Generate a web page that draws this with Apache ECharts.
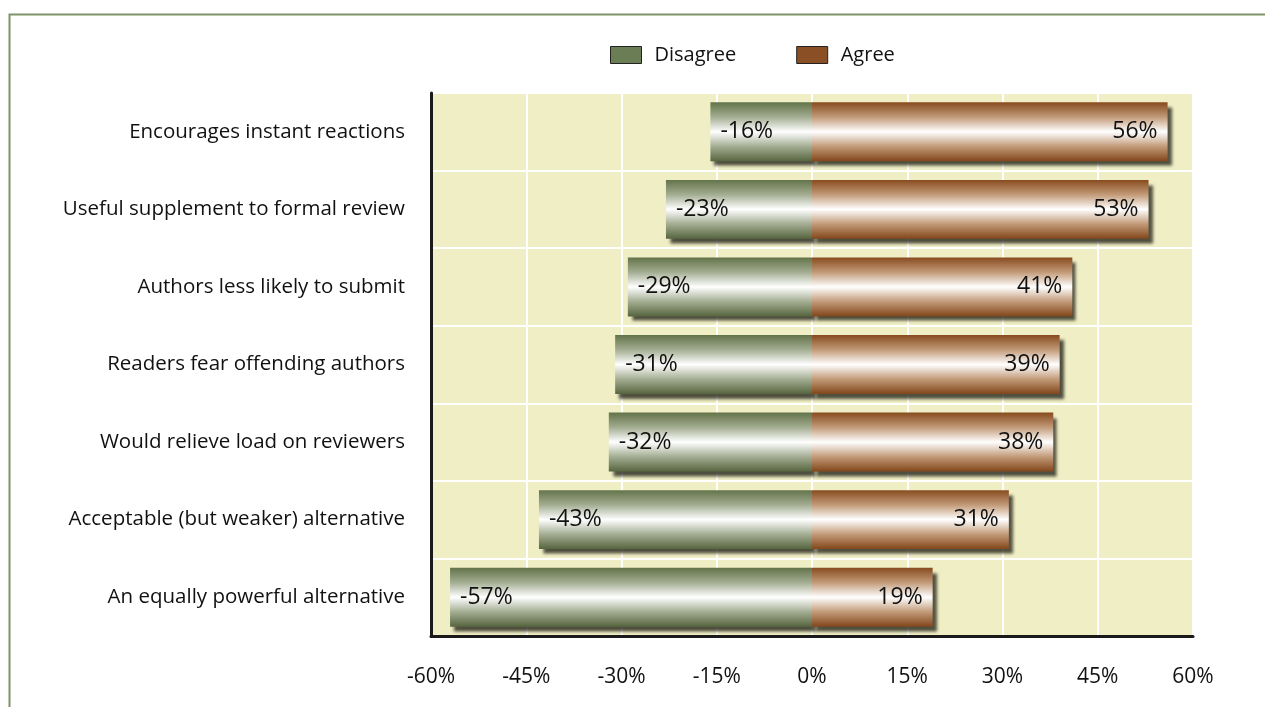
<!DOCTYPE html>
<html>
<head>
<meta charset="utf-8">
<script src="https://cdn.jsdelivr.net/npm/echarts@6/dist/echarts.min.js"></script>
<style>
  html, body { margin: 0; padding: 0; background: #fff; }
  #chart { width: 1265px; height: 707px; }
</style>
</head>
<body>
<div id="chart"></div>
<script>
// data
const categories = [
  'Encourages instant reactions',
  'Useful supplement to formal review',
  'Authors less likely to submit',
  'Readers fear offending authors',
  'Would relieve load on reviewers',
  'Acceptable (but weaker) alternative',
  'An equally powerful alternative'
]
const disagree = [-16, -23, -29, -31, -32, -43, -57]
const agree = [56, 53, 41, 39, 38, 31, 19]
const tickMin = -60
const tickMax = 60
const tickStep = 15

const font = 'Open Sans'

function barGradient(edgeTop, mid, edgeBottom) {
  return new echarts.graphic.LinearGradient(0, 0, 0, 1, [
    { offset: 0, color: edgeTop },
    { offset: 0.25, color: mid },
    { offset: 0.5, color: '#ffffff' },
    { offset: 0.75, color: mid },
    { offset: 1, color: edgeBottom }
  ])
}

const barShadow = {
  shadowColor: 'rgba(40, 40, 30, 0.8)',
  shadowBlur: 3,
  shadowOffsetX: 4,
  shadowOffsetY: 5
}

const chart = echarts.init(document.getElementById('chart'))
chart.setOption({
  backgroundColor: '#fff',
  animation: false,
  graphic: [{
    type: 'rect',
    shape: { x: 9.5, y: 14.5, width: 1400, height: 800 },
    style: { fill: 'none', stroke: '#7d9468', lineWidth: 2 },
    silent: true
  }],
  legend: {
    left: 605,
    top: 40,
    icon: 'rect',
    itemWidth: 31,
    itemHeight: 17,
    itemGap: 60,
    textStyle: { fontFamily: font, fontSize: 20, color: '#111', padding: [0, 0, 0, 8] },
    data: [
      { name: 'Disagree', itemStyle: { color: '#6b7d55', borderColor: '#222', borderWidth: 1 } },
      { name: 'Agree', itemStyle: { color: '#8a4f24', borderColor: '#222', borderWidth: 1 } }
    ]
  },
  grid: {
    left: 431,
    right: 72,
    top: 93,
    bottom: 71,
    show: true,
    backgroundColor: '#f0eec4',
    borderWidth: 0
  },
  xAxis: {
    type: 'value',
    min: tickMin,
    max: tickMax,
    interval: tickStep,
    axisLine: { show: true, onZero: false, lineStyle: { color: '#1a1a1a', width: 3 } },
    axisTick: { show: false },
    axisLabel: {
      fontFamily: font,
      fontSize: 21,
      color: '#111',
      margin: 31,
      formatter: v => v + '%'
    },
    splitLine: { show: true, lineStyle: { color: '#ffffff', width: 2 } }
  },
  yAxis: {
    type: 'category',
    data: categories,
    inverse: true,
    axisLine: { show: true, onZero: false, lineStyle: { color: '#1a1a1a', width: 3 } },
    axisTick: { show: false },
    axisLabel: { fontFamily: font, fontSize: 20.5, color: '#111', margin: 26 },
    splitLine: { show: true, lineStyle: { color: '#ffffff', width: 2 } }
  },
  series: [
    {
      name: 'Disagree',
      type: 'bar',
      data: disagree,
      barWidth: '76%',
      barGap: '-100%',
      itemStyle: Object.assign({ color: barGradient('#627349', '#a3ad92', '#56653f') }, barShadow),
      label: {
        show: true,
        position: 'insideLeft',
        distance: 10,
        fontFamily: font,
        fontSize: 23,
        color: '#111',
        formatter: p => p.value + '%'
      }
    },
    {
      name: 'Agree',
      type: 'bar',
      data: agree,
      barWidth: '76%',
      itemStyle: Object.assign({ color: barGradient('#874b1e', '#c29a78', '#82461a') }, barShadow),
      label: {
        show: true,
        position: 'insideRight',
        distance: 10,
        fontFamily: font,
        fontSize: 23,
        color: '#111',
        formatter: p => p.value + '%'
      }
    }
  ]
})
</script>
</body>
</html>
